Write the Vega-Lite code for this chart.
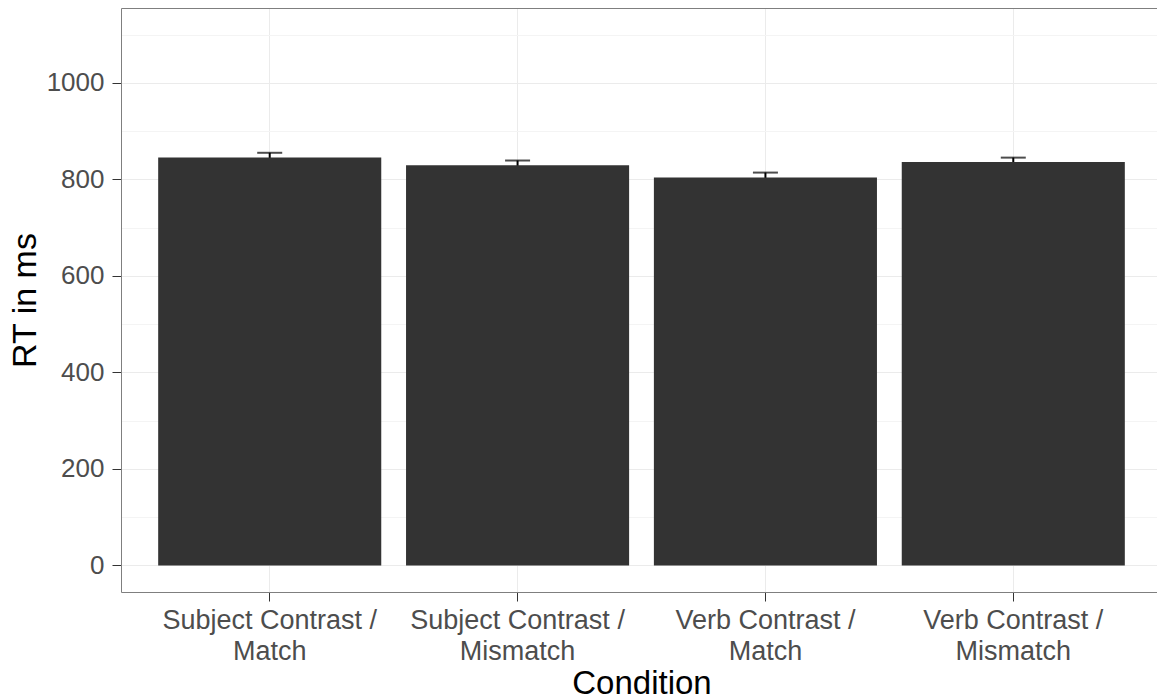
{
  "$schema": "https://vega.github.io/schema/vega-lite/v6.json",
  "width": 1036,
  "height": 584,
  "autosize": {"type": "none"},
  "padding": {"left": 121, "top": 8, "right": 0, "bottom": 108},
  "background": "white",
  "config": {
    "font": "Liberation Sans",
    "view": {"stroke": null}
  },
  "data": {
    "values": [
      {"condition": "Subject Contrast / Match", "rt": 845, "lower": 835, "upper": 855},
      {"condition": "Subject Contrast / Mismatch", "rt": 829, "lower": 819, "upper": 839},
      {"condition": "Verb Contrast / Match", "rt": 804, "lower": 794, "upper": 814},
      {"condition": "Verb Contrast / Mismatch", "rt": 836, "lower": 827, "upper": 845}
    ]
  },
  "resolve": {"axis": {"x": "independent"}},
  "layer": [
    {
      "mark": {"type": "rule", "color": "#000000", "strokeWidth": 2},
      "encoding": {
        "x": {
          "field": "condition",
          "type": "nominal",
          "sort": ["Subject Contrast / Match", "Subject Contrast / Mismatch", "Verb Contrast / Match", "Verb Contrast / Mismatch"],
          "scale": {"paddingInner": 0.1, "paddingOuter": 0.15, "range": [0, 1041]},
          "axis": {
            "orient": "top",
            "title": null,
            "labels": false,
            "ticks": false,
            "grid": false,
            "domain": true,
            "domainColor": "#7f7f7f",
            "domainWidth": 1
          }
        },
        "y": {"field": "lower", "type": "quantitative"},
        "y2": {"field": "upper"}
      }
    },
    {
      "mark": {"type": "tick", "color": "#000000", "size": 25, "thickness": 2, "orient": "horizontal"},
      "encoding": {
        "x": {
          "field": "condition",
          "type": "nominal",
          "sort": ["Subject Contrast / Match", "Subject Contrast / Mismatch", "Verb Contrast / Match", "Verb Contrast / Mismatch"],
          "axis": null
        },
        "y": {"field": "upper", "type": "quantitative"}
      }
    },
    {
      "mark": {"type": "bar", "color": "#333333"},
      "encoding": {
        "x": {
          "field": "condition",
          "type": "nominal",
          "sort": ["Subject Contrast / Match", "Subject Contrast / Mismatch", "Verb Contrast / Match", "Verb Contrast / Mismatch"],
          "axis": {
            "orient": "bottom",
            "title": "Condition",
            "titleFontSize": 33,
            "titleFontWeight": "normal",
            "titleColor": "#000000",
            "titlePadding": 3,
            "labelAngle": 0,
            "labelFontSize": 27,
            "labelColor": "#4d4d4d",
            "labelLineHeight": 31,
            "labelPadding": 6,
            "labelLimit": 0,
            "labelExpr": "[split(datum.label, ' / ')[0] + ' /', split(datum.label, ' / ')[1]]",
            "tickSize": 9,
            "tickColor": "#333333",
            "tickWidth": 1,
            "bandPosition": 0.5,
            "domain": true,
            "domainColor": "#7f7f7f",
            "domainWidth": 1,
            "grid": true,
            "gridColor": "#ebebeb",
            "gridWidth": 1
          }
        },
        "y": {
          "field": "rt",
          "type": "quantitative",
          "scale": {"domain": [-55, 1155], "nice": false, "zero": false},
          "axis": {
            "title": "RT in ms",
            "titleFontSize": 34,
            "titleFontWeight": "normal",
            "titleColor": "#000000",
            "titlePadding": 4,
            "values": [0, 100, 200, 300, 400, 500, 600, 700, 800, 900, 1000, 1100],
            "format": "d",
            "labelExpr": "datum.value % 200 === 0 ? datum.label : ''",
            "labelFontSize": 26,
            "labelColor": "#4d4d4d",
            "labelPadding": 8,
            "tickSize": 9,
            "tickColor": "#333333",
            "tickOpacity": {"condition": {"test": "datum.value % 200 === 0", "value": 1}, "value": 0},
            "domain": true,
            "domainColor": "#7f7f7f",
            "domainWidth": 1,
            "grid": true,
            "gridColor": {"condition": {"test": "datum.value % 200 === 0", "value": "#ebebeb"}, "value": "#f4f4f4"},
            "gridWidth": 1
          }
        }
      }
    }
  ]
}
